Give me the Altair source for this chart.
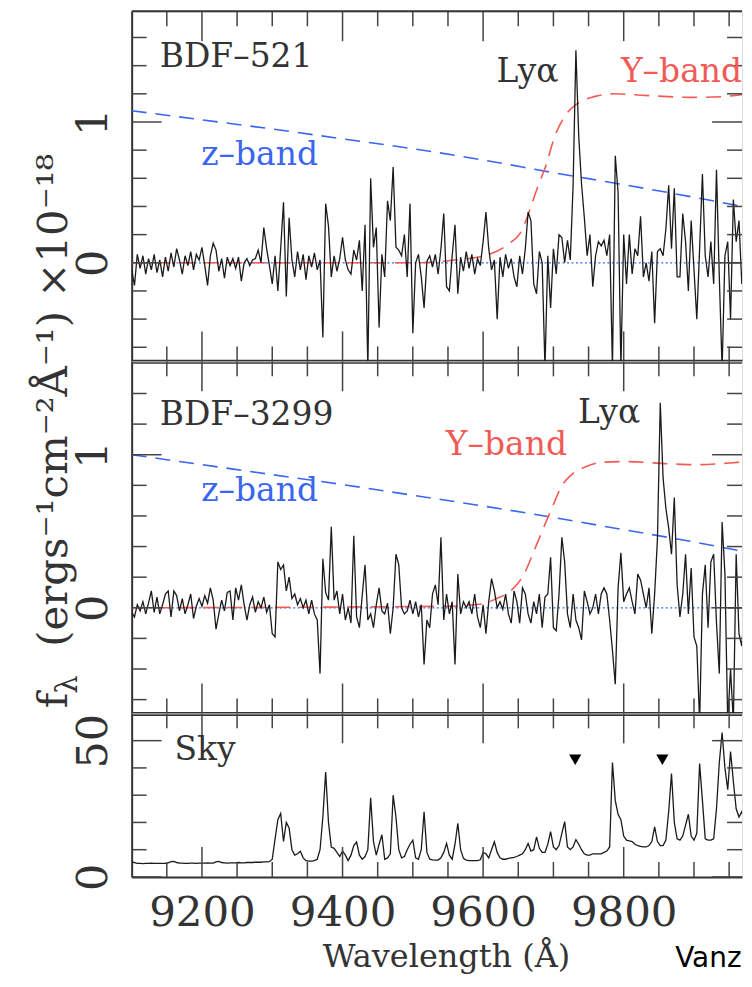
import altair as alt
import pandas as pd

# ---------------- data ----------------
WAVE = list(range(9100, 9977, 4))  # Angstrom grid of the spectra (visible part)

FLUX_521 = [
    -0.05, -0.16, 0.06, -0.04, 0.05, -0.08, 0.03, -0.05, 0.06, -0.07,
    0.02, -0.10, 0.04, -0.06, 0.07, -0.03, 0.10, 0.02, -0.08, 0.05,
    -0.02, 0.08, -0.05, 0.06, 0.02, 0.11, -0.02, -0.16, 0.05, 0.14,
    0.09, -0.06, 0.03, -0.11, 0.04, -0.02, 0.03, -0.04, 0.04, -0.13,
    0.00, 0.03, -0.02, 0.02, 0.03, 0.09, 0.00, 0.25, 0.10, -0.02,
    -0.15, 0.05, -0.20, 0.10, 0.43, -0.24, 0.32, 0.02, -0.10, 0.08,
    -0.05, 0.06, -0.12, 0.05, -0.03, 0.07, -0.05, 0.02, -0.53, 0.42,
    0.26, -0.10, 0.05, -0.06, 0.03, 0.18, 0.02, -0.05, -0.08, 0.09,
    0.02, 0.16, -0.20, 0.27, -0.75, 0.60, 0.11, 0.25, -0.46, 0.06,
    -0.10, 0.44, 0.30, 0.68, 0.11, 0.09, 0.05, 0.20, -0.10, 0.42,
    -0.50, 0.00, 0.06, -0.10, -0.32, 0.01, 0.05, -0.03, 0.06, -0.08,
    0.10, 0.35, -0.17, -0.20, 0.05, 0.27, -0.22, 0.04, -0.06, 0.08,
    -0.04, 0.06, -0.08, 0.03, -0.02, 0.15, 0.36, 0.10, -0.05, 0.02,
    -0.40, 0.04, -0.10, 0.06, -0.04, 0.03, -0.10, -0.17, 0.05, -0.08,
    0.10, 0.36, 0.30, -0.15, -0.22, 0.08, 0.00, -0.75, 0.05, -0.32,
    0.10, -0.08, 0.20, 0.18, 0.00, 0.16, 0.02, 0.55, 1.51, 0.90,
    0.56, 0.32, 0.05, 0.20, -0.17, 0.05, 0.15, 0.12, 0.16, 0.05,
    0.20, -0.75, 0.76, 0.50, -0.75, 0.20, -0.15, 0.20, -0.08, 0.10,
    0.05, 0.33, -0.10, 0.00, -0.13, 0.08, -0.43, 0.08, 0.10, 0.05,
    0.24, 0.55, 0.10, 0.53, -0.10, -0.10, 0.35, 0.15, -0.20, 0.30,
    -0.05, -0.40, 0.10, 0.63, 0.05, -0.10, 0.15, -0.15, 0.66, -0.10,
    -0.75, 0.05, 0.15, -0.40, 0.45, 0.15, 0.30, -0.15, 0.12, 0.00,
]

FLUX_3299 = [
    -0.03, -0.06, 0.02, -0.02, 0.04, -0.04, 0.03, 0.11, -0.03, 0.07,
    -0.04, 0.02, 0.09, 0.11, -0.06, 0.11, 0.08, -0.02, 0.06, -0.04,
    0.02, 0.09, -0.07, 0.01, 0.06, 0.01, 0.08, 0.03, 0.13, 0.05,
    -0.14, -0.04, 0.05, -0.02, 0.10, 0.11, -0.08, 0.13, 0.05, 0.15,
    0.02, -0.08, 0.02, 0.07, -0.03, 0.04, 0.00, 0.07, -0.03, 0.02,
    -0.17, -0.19, 0.30, 0.25, 0.28, 0.11, 0.20, 0.06, 0.09, 0.02,
    0.06, 0.00, 0.05, -0.04, 0.05, -0.04, -0.08, -0.43, 0.32, 0.10,
    0.05, 0.53, 0.05, 0.11, -0.04, 0.09, -0.08, 0.00, -0.10, 0.47,
    -0.06, -0.13, 0.08, 0.28, -0.08, -0.04, -0.13, 0.02, 0.13, -0.02,
    -0.04, 0.03, -0.17, 0.00, 0.35, 0.28, 0.00, -0.04, -0.02, 0.05,
    -0.04, 0.04, -0.06, 0.02, -0.37, -0.08, -0.13, 0.09, 0.15, 0.02,
    0.46, -0.08, 0.09, -0.04, 0.04, -0.37, 0.22, -0.04, 0.04, 0.00,
    0.04, -0.04, 0.09, -0.06, -0.13, 0.02, -0.17, 0.04, 0.19, 0.11,
    0.00, 0.04, -0.01, 0.09, -0.04, -0.10, 0.11, 0.04, -0.10, 0.13,
    0.09, -0.04, -0.10, 0.04, -0.04, 0.09, -0.13, 0.07, 0.09, 0.33,
    -0.13, -0.15, 0.09, 0.46, 0.30, -0.04, -0.13, 0.09, -0.08, -0.13,
    -0.21, 0.11, 0.04, -0.04, 0.00, 0.09, -0.04, 0.09, 0.13, 0.09,
    -0.08, -0.28, -0.50, 0.13, 0.36, 0.04, 0.09, 0.13, 0.04, -0.04,
    0.22, 0.18, 0.09, 0.00, 0.13, -0.17, 0.09, 0.45, 1.34, 0.85,
    0.65, 0.52, 0.35, 0.72, 0.15, -0.06, 0.09, 0.35, -0.04, 0.26,
    -0.19, -0.25, -0.75, 0.09, 0.28, -0.13, 0.30, 0.35, -0.10, -0.43,
    0.56, 0.22, -0.75, -0.40, -0.75, 0.35, -0.17, -0.25, 0.00, 0.22,
]

SKY = [
    5.6, 5.3, 5.0, 5.0, 4.9, 5.0, 5.0, 5.1, 5.0, 5.0,
    5.0, 5.0, 5.0, 5.2, 5.6, 5.7, 5.3, 5.1, 5.1, 5.0,
    5.0, 5.1, 5.1, 5.0, 5.1, 5.1, 5.1, 5.2, 5.1, 5.1,
    5.5, 5.7, 5.3, 5.2, 5.1, 5.2, 5.2, 5.2, 5.3, 5.2,
    5.2, 5.3, 5.3, 5.3, 5.4, 5.4, 5.4, 5.5, 5.5, 5.6,
    6.5, 14.0, 21.0, 23.3, 13.0, 20.0, 18.0, 10.0, 8.0, 8.5,
    9.4, 7.0, 6.0, 5.8, 5.8, 6.0, 6.5, 10.0, 22.0, 38.5,
    20.0, 11.0, 10.5, 9.0, 7.5, 9.5, 8.0, 6.0, 8.0, 11.5,
    12.8, 8.0, 6.5, 7.5, 10.0, 29.0, 13.0, 8.0, 12.0, 15.5,
    6.5, 7.0, 8.5, 30.0, 22.0, 10.0, 7.0, 7.5, 10.0, 12.0,
    13.5, 7.0, 6.5, 10.0, 23.9, 9.0, 6.5, 6.3, 6.2, 6.2,
    7.0, 9.0, 12.3, 8.0, 6.5, 12.0, 19.7, 10.0, 6.8, 6.2,
    6.0, 6.0, 6.0, 6.0, 6.3, 9.0, 8.5, 7.0, 10.0, 12.9,
    9.0, 7.0, 6.5, 6.5, 6.8, 7.0, 7.2, 7.5, 8.0, 8.5,
    10.0, 12.3, 9.5, 10.0, 14.7, 10.5, 9.0, 9.0, 12.0, 16.6,
    11.0, 10.0, 11.5, 16.0, 20.3, 11.0, 10.0, 11.0, 13.7, 12.0,
    10.0, 8.5, 8.0, 8.0, 8.5, 8.5, 8.5, 8.5, 9.0, 9.5,
    11.0, 42.0, 28.0, 23.0, 21.0, 15.0, 13.5, 13.2, 13.0, 12.0,
    11.5, 11.2, 11.0, 11.0, 11.5, 13.0, 18.4, 13.0, 11.5, 11.5,
    13.5, 24.0, 37.9, 20.0, 14.0, 13.5, 15.0, 19.0, 23.0, 15.0,
    13.5, 16.0, 41.6, 28.0, 14.0, 13.5, 13.5, 14.0, 25.0, 42.0,
    53.0, 40.0, 32.0, 46.0, 35.0, 25.0, 22.0, 24.0, 21.0, 20.0,
]

BAND_WAVE = [9100, 9200, 9300, 9400, 9500, 9600, 9700, 9800, 9900, 9976]
ZBAND_521 = [1.08, 1.015, 0.95, 0.88, 0.81, 0.73, 0.64, 0.555, 0.465, 0.393]
ZBAND_3299 = [1.0, 0.935, 0.87, 0.805, 0.735, 0.665, 0.59, 0.51, 0.43, 0.363]

YBAND_521_WAVE = [9100, 9500, 9560, 9602, 9635, 9655, 9666, 9677, 9690,
                  9701, 9716, 9734, 9758, 9786, 9825, 9896, 9940, 9976]
YBAND_521 = [0.0, 0.0, 0.02, 0.05, 0.13, 0.23, 0.37, 0.53, 0.70,
             0.885, 1.04, 1.13, 1.18, 1.20, 1.19, 1.175, 1.18, 1.20]
YBAND_3299_WAVE = [9100, 9547, 9598, 9619, 9639, 9657, 9674, 9688, 9700,
                   9711, 9726, 9745, 9768, 9802, 9867, 9905, 9962, 9976]
YBAND_3299 = [0.0, 0.01, 0.025, 0.06, 0.11, 0.21, 0.39, 0.545, 0.675,
              0.79, 0.87, 0.92, 0.95, 0.955, 0.94, 0.935, 0.95, 0.955]

ZERO_DOTTED_WAVE = [9100, 9948]
ZERO_SOLID_WAVE = [9948, 9976]

LYA_MARK_WAVE = [9731, 9855]
LYA_MARK_SKY = [43, 43]

X_LABELS = [9200, 9400, 9600, 9800]
X_MAJOR = [9200, 9400, 9600, 9800]
X_MINOR = [9150, 9250, 9300, 9350, 9450, 9500, 9550, 9650, 9700, 9750, 9850, 9900, 9950]
Y1_MAJOR = [0, 1]
Y1_MINOR = [-0.6, -0.4, -0.2, 0.2, 0.4, 0.6, 0.8, 1.2, 1.4, 1.6]
Y2_MAJOR = [0, 1]
Y2_MINOR = [-0.6, -0.4, -0.2, 0.2, 0.4, 0.6, 0.8, 1.2, 1.4]
Y3_MAJOR = [0, 50]
Y3_MINOR = [10, 20, 30, 40]

LAB1_TEXT = ["BDF\u2013521", "Ly\u03b1", "Y\u2013band", "z\u2013band"]
LAB1_WAVE = [9140, 9619, 9796, 9199]
LAB1_FLUX = [1.39, 1.283, 1.283, 0.695]
LAB1_COL = ["k", "k", "r", "b"]
LAB2_TEXT = ["BDF\u20133299", "Ly\u03b1", "Y\u2013band", "z\u2013band"]
LAB2_WAVE = [9140, 9735, 9547, 9199]
LAB2_FLUX = [1.193, 1.206, 0.998, 0.698]
LAB2_COL = ["k", "k", "r", "b"]
LAB3_TEXT = ["Sky"]
LAB3_WAVE = [9161]
LAB3_FLUX = [42.8]
LAB3_COL = ["k"]

# ---------------- styling ----------------
FONT = "DejaVu Serif"
INK = "#333333"
BLUE = "#3a66f0"
RED = "#f25a55"
TICK = "#444444"
COLMAP = {"k": INK, "r": RED, "b": BLUE}

W = 612
H1, H2, H3 = 351, 353, 164
XDOM = [9100, 9968.3]
Y1DOM = [-0.7, 1.786]
Y2DOM = [-0.69, 1.61]
Y3DOM = [0, 60]
MAJ, MIN = 30, 15


def make_x(axis):
    return alt.X("wave:Q", scale=alt.Scale(domain=XDOM, nice=False, zero=False), axis=axis)


def make_y(dom, axis):
    return alt.Y("flux:Q", scale=alt.Scale(domain=dom, nice=False, zero=False), axis=axis)


def y_axis(values):
    return alt.Axis(title=None, values=values, format="d", ticks=False, tickSize=0, grid=False,
                    domain=True, domainWidth=2, domainColor=INK,
                    labelFont=FONT, labelFontSize=43, labelColor=INK,
                    labelAngle=270, labelAlign="center", labelBaseline="alphabetic",
                    labelPadding=25, labelOverlap=False, labelFlush=False)


inner_x_axis = alt.Axis(title=None, labels=False, ticks=False, tickSize=0, grid=False,
                        domain=True, domainWidth=4, domainColor=INK)
bottom_x_axis = alt.Axis(title=None, values=X_LABELS, format="d", ticks=False, tickSize=0,
                         grid=False, domain=True, domainWidth=2, domainColor=INK,
                         labelFont=FONT, labelFontSize=42, labelColor=INK,
                         labelPadding=49, labelBaseline="alphabetic", labelAlign="center",
                         labelOverlap=False, labelFlush=False)


def tick_layers(xe, ye, H, ymaj, ymin):
    out = []
    for vals, L in ((X_MAJOR, MAJ), (X_MINOR, MIN)):
        df = pd.DataFrame({"wave": vals})
        out.append(alt.Chart(df).mark_rule(color=TICK, strokeWidth=1.5).encode(
            x=xe, y=alt.value(0), y2=alt.value(L)))
        out.append(alt.Chart(df).mark_rule(color=TICK, strokeWidth=1.5).encode(
            x=xe, y=alt.value(H - L), y2=alt.value(H)))
    for vals, L in ((ymaj, MAJ), (ymin, MIN)):
        df = pd.DataFrame({"flux": vals})
        out.append(alt.Chart(df).mark_rule(color=TICK, strokeWidth=1.5).encode(
            y=ye, x=alt.value(0), x2=alt.value(L)))
        out.append(alt.Chart(df).mark_rule(color=TICK, strokeWidth=1.5).encode(
            y=ye, x=alt.value(W - L), x2=alt.value(W)))
    return out


def label_layer(xe, ye, texts, waves, fluxes, cols, size):
    df = pd.DataFrame({"wave": waves, "flux": fluxes, "label": texts,
                       "col": [COLMAP[c] for c in cols]})
    return alt.Chart(df).mark_text(font=FONT, fontSize=size, align="left",
                                   baseline="alphabetic").encode(
        x=xe, y=ye, text="label:N", color=alt.Color("col:N", scale=None))


one = pd.DataFrame({"k": [0]})


def spectrum_panel(H, ydom, flux, zband, yb_wave, yband, ymaj, ymin, labels, extra=None):
    xe = make_x(inner_x_axis)
    ye = make_y(ydom, y_axis([0, 1]))
    layers = []
    layers.append(alt.Chart(pd.DataFrame({"wave": ZERO_DOTTED_WAVE, "flux": [0, 0]}))
                  .mark_line(color=BLUE, strokeWidth=1.3, strokeDash=[2, 2.5], clip=True)
                  .encode(x=xe, y=ye))
    layers.append(alt.Chart(pd.DataFrame({"wave": ZERO_SOLID_WAVE, "flux": [0, 0]}))
                  .mark_line(color="#111111", strokeWidth=1.5, clip=True)
                  .encode(x=xe, y=ye))
    layers.append(alt.Chart(pd.DataFrame({"wave": BAND_WAVE, "flux": zband}))
                  .mark_line(color=BLUE, strokeWidth=1.6, strokeDash=[15, 9],
                             interpolate="monotone", clip=True)
                  .encode(x=xe, y=ye))
    layers.append(alt.Chart(pd.DataFrame({"wave": yb_wave, "flux": yband}))
                  .mark_line(color=RED, strokeWidth=1.6, strokeDash=[15, 9],
                             interpolate="monotone", clip=True)
                  .encode(x=xe, y=ye))
    layers.append(alt.Chart(pd.DataFrame({"wave": WAVE, "flux": flux}))
                  .mark_line(color="#1a1a1a", strokeWidth=1.3, clip=True)
                  .encode(x=xe, y=ye))
    layers += tick_layers(xe, ye, H, ymaj, ymin)
    layers.append(label_layer(xe, ye, *labels, size=33))
    if extra:
        layers += extra
    return alt.layer(*layers).properties(width=W, height=H)


top_border = alt.Chart(one).mark_rule(color=INK, strokeWidth=2).encode(
    x=alt.value(0), x2=alt.value(W), y=alt.value(0))

ytitle_layers = [
    alt.Chart(one).mark_text(font=FONT, fontSize=42, angle=270, align="center",
                             baseline="alphabetic", color=INK).encode(
        x=alt.value(-65), y=alt.value(39),
        text=alt.value("(ergs\u207b\u00b9cm\u207b\u00b2\u00c5\u207b\u00b9) \u00d710\u207b\u00b9\u2078")),
    alt.Chart(one).mark_text(font=FONT, fontSize=42, angle=270, align="center",
                             baseline="alphabetic", color=INK).encode(
        x=alt.value(-65), y=alt.value(340), text=alt.value("f")),
    alt.Chart(one).mark_text(font=FONT, fontSize=29, angle=270, align="center",
                             baseline="alphabetic", color=INK).encode(
        x=alt.value(-55), y=alt.value(324), text=alt.value("\u03bb")),
    # invisible anchor that fixes the left edge of the layout
    alt.Chart(one).mark_rule(strokeOpacity=0, strokeWidth=2).encode(
        x=alt.value(-123), y=alt.value(0), y2=alt.value(10)),
]

top = spectrum_panel(H1, Y1DOM, FLUX_521, ZBAND_521, YBAND_521_WAVE, YBAND_521,
                     Y1_MAJOR, Y1_MINOR, (LAB1_TEXT, LAB1_WAVE, LAB1_FLUX, LAB1_COL),
                     extra=[top_border])
mid = spectrum_panel(H2, Y2DOM, FLUX_3299, ZBAND_3299, YBAND_3299_WAVE, YBAND_3299,
                     Y2_MAJOR, Y2_MINOR, (LAB2_TEXT, LAB2_WAVE, LAB2_FLUX, LAB2_COL),
                     extra=ytitle_layers)

# sky panel
xe3 = make_x(bottom_x_axis)
ye3 = make_y(Y3DOM, y_axis([0, 50]))
sky_layers = [
    alt.Chart(pd.DataFrame({"wave": WAVE, "flux": SKY}))
    .mark_line(color="#1a1a1a", strokeWidth=1.3, clip=True).encode(x=xe3, y=ye3),
    alt.Chart(pd.DataFrame({"wave": LYA_MARK_WAVE, "flux": LYA_MARK_SKY}))
    .mark_point(shape="triangle-down", filled=True, color="black", size=150, opacity=1)
    .encode(x=xe3, y=ye3),
]
sky_layers += tick_layers(xe3, ye3, H3, Y3_MAJOR, Y3_MINOR)
sky_layers.append(label_layer(xe3, ye3, LAB3_TEXT, LAB3_WAVE, LAB3_FLUX, LAB3_COL, size=33))
sky_layers.append(alt.Chart(one).mark_text(font=FONT, fontSize=32, align="center",
                                           baseline="alphabetic", color=INK).encode(
    x=alt.value(315.7), y=alt.value(254), text=alt.value("Wavelength (\u00c5)")))
sky_layers.append(alt.Chart(one).mark_text(font="DejaVu Sans", fontSize=28, align="left",
                                           baseline="alphabetic", color="black").encode(
    x=alt.value(545), y=alt.value(254), text=alt.value("Vanz")))
bot = alt.layer(*sky_layers).properties(width=W, height=H3)

chart = alt.vconcat(top, mid, bot, spacing=0, bounds="flush").properties(
    padding={"left": 0, "top": 0, "right": 0, "bottom": 0}
).configure_view(stroke=None).configure(background="white")

chart.save("out.html", embed_options={"renderer": "svg", "actions": False})
